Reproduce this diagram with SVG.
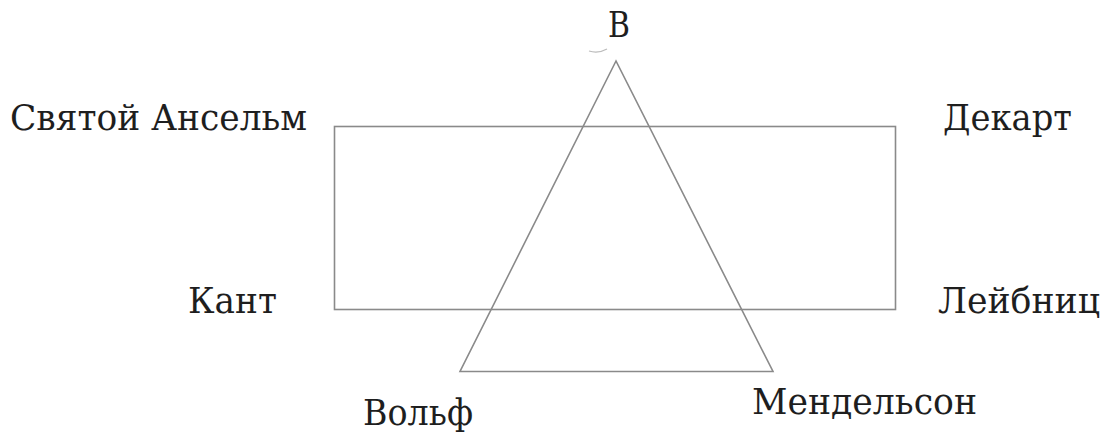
<svg xmlns="http://www.w3.org/2000/svg" width="1105" height="433" viewBox="0 0 1105 433">
<style>
.lbl{font-family:"DejaVu Serif","Liberation Serif",serif;font-size:35px;fill:#1e1e1e}
.ln{fill:none;stroke:#8a8a8a;stroke-width:1.6}
</style>
<rect width="1105" height="433" fill="#fff"/>
<g id="connectors">
<rect id="rect" class="ln" x="334.5" y="126.5" width="561" height="183"/>
<polygon id="triangle" class="ln" points="616,61 460,371.5 773,371.5"/>
<path d="M589,51 Q598,54 607,49" fill="none" stroke="#bbb" stroke-width="1.2"/>
</g>
<g id="n-B"><text class="lbl" x="608" y="37" textLength="22" lengthAdjust="spacingAndGlyphs">В</text></g>
<g id="n-anselm"><text class="lbl" x="10" y="130" textLength="297" lengthAdjust="spacingAndGlyphs">Святой Ансельм</text></g>
<g id="n-descartes"><text class="lbl" x="943" y="130" textLength="129" lengthAdjust="spacingAndGlyphs">Декарт</text></g>
<g id="n-kant"><text class="lbl" x="188" y="313" textLength="89" lengthAdjust="spacingAndGlyphs">Кант</text></g>
<g id="n-leibniz"><text class="lbl" x="938" y="313" textLength="162" lengthAdjust="spacingAndGlyphs">Лейбниц</text></g>
<g id="n-wolff"><text class="lbl" x="363" y="425" textLength="110" lengthAdjust="spacingAndGlyphs">Вольф</text></g>
<g id="n-mendelssohn"><text class="lbl" x="752" y="414" textLength="225" lengthAdjust="spacingAndGlyphs">Мендельсон</text></g>
</svg>
